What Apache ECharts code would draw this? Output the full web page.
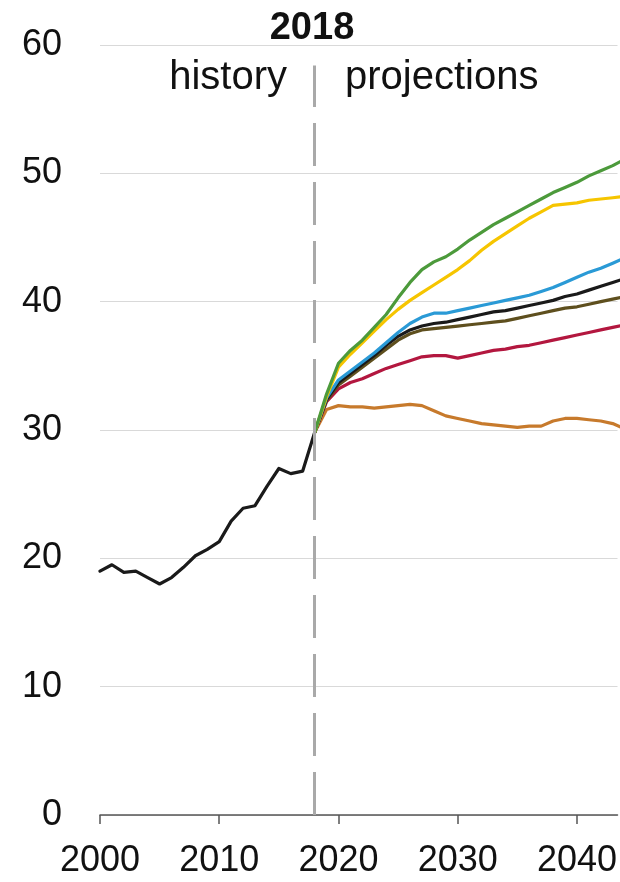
<!DOCTYPE html>
<html>
<head>
<meta charset="utf-8">
<script src="https://cdn.jsdelivr.net/npm/echarts@6/dist/echarts.min.js"></script>
<style>
html,body{margin:0;padding:0;background:#fff;}
#chart{width:620px;height:882px;}
</style>
</head>
<body>
<div id="chart"></div>
<script>
// ---- data ----
const historyYears = [2000,2001,2002,2003,2004,2005,2006,2007,2008,2009,2010,2011,2012,2013,2014,2015,2016,2017,2018];
const historyValues = [19.0,19.5,18.9,19.0,18.5,18.0,18.5,19.3,20.2,20.7,21.3,22.9,23.9,24.1,25.6,27.0,26.6,26.8,29.8];

const projYears = [2018,2019,2020,2021,2022,2023,2024,2025,2026,2027,2028,2029,2030,2031,2032,2033,2034,2035,2036,2037,2038,2039,2040,2041,2042,2043,2044];
const greenValues  = [29.8,32.8,35.2,36.2,37.0,38.0,39.0,40.3,41.5,42.5,43.1,43.5,44.1,44.8,45.4,46.0,46.5,47.0,47.5,48.0,48.5,48.9,49.3,49.8,50.2,50.6,51.1];
const yellowValues = [29.8,32.6,34.9,35.9,36.8,37.7,38.6,39.4,40.1,40.7,41.3,41.9,42.5,43.2,44.0,44.7,45.3,45.9,46.5,47.0,47.5,47.6,47.7,47.9,48.0,48.1,48.2];
const blueValues   = [29.8,32.5,33.9,34.6,35.3,36.0,36.8,37.6,38.3,38.8,39.1,39.1,39.3,39.5,39.7,39.9,40.1,40.3,40.5,40.8,41.1,41.5,41.9,42.3,42.6,43.0,43.4];
const blackValues  = [29.8,32.4,33.7,34.4,35.1,35.8,36.6,37.3,37.8,38.1,38.3,38.4,38.6,38.8,39.0,39.2,39.3,39.5,39.7,39.9,40.1,40.4,40.6,40.9,41.2,41.5,41.8];
const oliveValues  = [29.8,32.3,33.5,34.2,34.9,35.6,36.3,37.0,37.5,37.8,37.9,38.0,38.1,38.2,38.3,38.4,38.5,38.7,38.9,39.1,39.3,39.5,39.6,39.8,40.0,40.2,40.4];
const redValues    = [29.8,32.2,33.2,33.7,34.0,34.4,34.8,35.1,35.4,35.7,35.8,35.8,35.6,35.8,36.0,36.2,36.3,36.5,36.6,36.8,37.0,37.2,37.4,37.6,37.8,38.0,38.2];
const orangeValues = [29.8,31.6,31.9,31.8,31.8,31.7,31.8,31.9,32.0,31.9,31.5,31.1,30.9,30.7,30.5,30.4,30.3,30.2,30.3,30.3,30.7,30.9,30.9,30.8,30.7,30.5,30.1];

const yTicks = [0,10,20,30,40,50,60];
const xTickLabels = [2000,2010,2020,2030,2040];
const dividerYear = 2018;
const dividerTop = 58.4;

// ---- chart ----
const FONT = '"Liberation Sans", Arial, Helvetica, sans-serif';
const pairs = (xs, ys) => xs.map((x, i) => [x, ys[i]]);

function lineSeries(name, xs, ys, color, extra) {
  return Object.assign({
    name: name,
    type: 'line',
    data: pairs(xs, ys),
    showSymbol: false,
    symbol: 'none',
    smooth: false,
    clip: true,
    lineStyle: { color: color, width: 3.2, cap: 'round', join: 'round' },
    itemStyle: { color: color },
    silent: true
  }, extra || {});
}

const chart = echarts.init(document.getElementById('chart'), null, { renderer: 'canvas' });
chart.setOption({
  animation: false,
  backgroundColor: '#ffffff',
  grid: { left: 100, right: 0, top: 45, bottom: 67, containLabel: false },
  xAxis: {
    type: 'value',
    min: 2000,
    max: 2043.4,
    interval: 10,
    axisLine: { show: true, lineStyle: { color: '#555555', width: 1.5 } },
    axisTick: { show: true, length: 9, lineStyle: { color: '#555555', width: 1.5 } },
    axisLabel: {
      color: '#111111', fontFamily: FONT, fontSize: 36, margin: 28,
      formatter: v => (xTickLabels.indexOf(v) >= 0 ? String(v) : ''),
      showMaxLabel: false
    },
    splitLine: { show: false }
  },
  yAxis: {
    type: 'value',
    min: yTicks[0],
    max: yTicks[yTicks.length - 1],
    interval: 10,
    axisLine: { show: false },
    axisTick: { show: false },
    axisLabel: { color: '#111111', fontFamily: FONT, fontSize: 36, margin: 38 },
    splitLine: { show: true, lineStyle: { color: '#d9d9d9', width: 1.2 } }
  },
  graphic: [
    { type: 'text', x: 312, y: 10, style: { text: '2018', font: 'bold 38px ' + FONT, fill: '#111111', textAlign: 'center', textVerticalAlign: 'top' } },
    { type: 'text', x: 287, y: 58, style: { text: 'history', font: '40px ' + FONT, fill: '#111111', textAlign: 'right', textVerticalAlign: 'top' } },
    { type: 'text', x: 345, y: 58, style: { text: 'projections', font: '40px ' + FONT, fill: '#111111', textAlign: 'left', textVerticalAlign: 'top' } }
  ],
  series: [
    lineSeries('orange', projYears, orangeValues, '#c77a2c', {
      markLine: {
        silent: true,
        symbol: ['none', 'none'],
        label: { show: false },
        lineStyle: { color: '#a9a9a9', width: 3, type: [43, 16] },
        data: [[{ coord: [dividerYear, 0] }, { coord: [dividerYear, dividerTop] }]]
      }
    }),
    lineSeries('red', projYears, redValues, '#b3173f'),
    lineSeries('olive', projYears, oliveValues, '#5e4f1e'),
    lineSeries('black', projYears, blackValues, '#1a1a1a'),
    lineSeries('blue', projYears, blueValues, '#2a9ad6'),
    lineSeries('yellow', projYears, yellowValues, '#f6c500'),
    lineSeries('green', projYears, greenValues, '#4c9a3b'),
    lineSeries('history', historyYears, historyValues, '#1a1a1a')
  ]
});
</script>
</body>
</html>
